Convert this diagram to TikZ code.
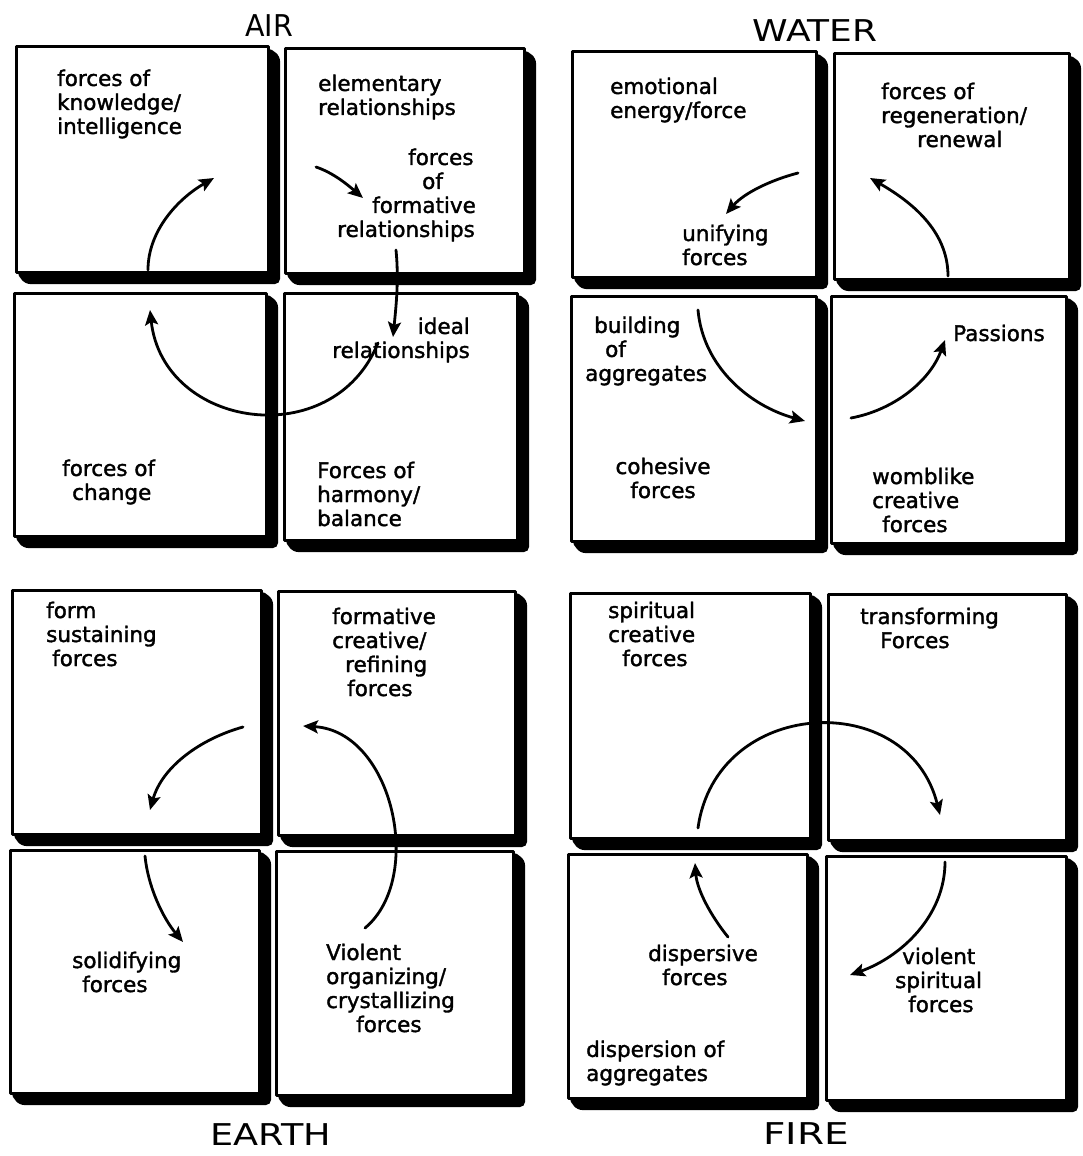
\documentclass[tikz,border=0pt]{standalone}
\usepackage{fontspec}
\usepackage{graphicx}
\setmainfont{DejaVu Sans}
\newfontfamily\handfont{DejaVu Sans}[FakeBold=1.6]
\usetikzlibrary{arrows.meta,fit,calc}
\newcommand{\qbox}[5]{%
  \fill[black, rounded corners=5pt] (#4,#3) -- ({#4+12},{#3+9}) -- ({#4+12},{#5+12}) -- ({#2+9},{#5+12}) -- (#2,#5) -- cycle;
  \node[qboxst, fit={(#2,#3) (#4,#5)}] (#1) {};
}
\begin{document}
\begin{tikzpicture}[x=1pt,y=-1pt,line join=round,
  qboxst/.style={draw, line width=3pt, fill=white, inner sep=0pt, outer sep=0pt},
  lbl/.style={font=\handfont\fontsize{21.5}{24}\selectfont, inner sep=0pt, align=left, anchor=west},
  lblc/.style={font=\handfont\fontsize{21.5}{24}\selectfont, inner sep=0pt, align=center, anchor=center},
  lblr/.style={font=\handfont\fontsize{21.5}{24}\selectfont, inner sep=0pt, align=right, anchor=east},
  ttl/.style={font=\fontsize{30}{32}\selectfont, inner sep=0pt},
  arr/.style={line width=2.8pt, line cap=round, -{Stealth[length=15pt,width=13pt,inset=3pt]}}]
\fill[white] (0,0) rectangle (1083,1156);
\useasboundingbox (0,0) rectangle (1083,1156);

% ---------- boxes ----------
\qbox{airTL}{16}{47}{268}{272}
\qbox{airTR}{285}{49}{524}{273}
\qbox{airBL}{14}{293}{266}{536}
\qbox{airBR}{284}{293}{517}{540}
\qbox{watTL}{572}{52}{816}{277}
\qbox{watTR}{834}{54}{1069}{279}
\qbox{watBL}{571}{296}{816}{541}
\qbox{watBR}{831}{296}{1066}{543}
\qbox{earTL}{12}{590}{261}{834}
\qbox{earTR}{278}{591}{515}{835}
\qbox{earBL}{10}{850}{259}{1093}
\qbox{earBR}{276}{851}{513}{1095}
\qbox{firTL}{570}{593}{810}{838}
\qbox{firTR}{828}{594}{1066}{840}
\qbox{firBL}{568}{854}{807}{1098}
\qbox{firBR}{826}{856}{1066}{1100}

% ---------- titles ----------
\node[ttl] (tAir) at (269,26) {\scalebox{0.95}[1]{AIR}};
\node[ttl] (tWater) at (815,31) {\scalebox{1.2}[1]{WATER}};
\node[ttl] (tEarth) at (271,1135) {\scalebox{1.22}[1]{EARTH}};
\node[ttl] (tFire) at (806,1134) {\scalebox{1.3}[1]{FIRE}};

% ---------- AIR labels ----------
\node[lbl] (lAknow) at (57,104) {forces of\\knowledge/\\intelligence};
\node[lbl] (lAelem) at (318,97) {elementary\\relationships};
\node[lbl] (lAform) at (337,195) {\hspace*{71pt}forces\\\hspace*{85pt}of\\\hspace*{35pt}formative\\relationships};
\node[lblr] (lAideal) at (470,340) {ideal\\relationships};
\node[lbl] (lAchange) at (62,482) {forces of\\\hspace*{10pt}change};
\node[lbl] (lAharm) at (317,494) {Forces of\\harmony/\\balance};

% ---------- WATER labels ----------
\node[lbl] (lWemo) at (610,100) {emotional\\energy/force};
\node[lbl] (lWunify) at (682,245) {unifying\\forces};
\node[lbl] (lWregen) at (881,115) {forces of\\regeneration/\\\hspace*{36pt}renewal};
\node[lbl] (lWbuild) at (585,351) {\hspace*{9pt}building\\\hspace*{20pt}of\\aggregates};
\node[lblc] (lWcoh) at (663,478) {cohesive\\forces};
\node[lbl] (lWpass) at (953,333) {Passions};
\node[lbl] (lWwomb) at (872,500) {womblike\\creative\\\hspace*{10pt}forces};

% ---------- EARTH labels ----------
\node[lbl] (lEform) at (46,634) {form\\sustaining\\\hspace*{6pt}forces};
\node[lbl] (lEcreat) at (332,652) {formative\\creative/\\\hspace*{13pt}refining\\\hspace*{15pt}forces};
\node[lbl] (lEsolid) at (72,972) {solidifying\\\hspace*{10pt}forces};
\node[lbl] (lEviol) at (326,988) {Violent\\organizing/\\crystallizing\\\hspace*{30pt}forces};

% ---------- FIRE labels ----------
\node[lbl] (lFspir) at (608,634) {spiritual\\creative\\\hspace*{14pt}forces};
\node[lbl] (lFtrans) at (860,628) {transforming\\\hspace*{20pt}Forces};
\node[lbl] (lFdisp) at (648,965) {dispersive\\\hspace*{14pt}forces};
\node[lbl] (lFviol) at (895,980) {\hspace*{7pt}violent\\spiritual\\\hspace*{13pt}forces};
\node[lbl] (lFaggr) at (586,1063) {dispersion of\\aggregates};

% ---------- arrows: AIR ----------
\coordinate (a1s) at (148,270); \coordinate (a1e) at (214,178);
\draw[arr] (a1s) .. controls +(0,-40) and +(-35,20) .. (a1e);
\coordinate (a2s) at (378,343); \coordinate (a2e) at (150,310);
\draw[arr] (a2s) .. controls +(-45,111) and +(13,119) .. (a2e);
\coordinate (a3s) at (316,167); \coordinate (a3e) at (363,198);
\draw[arr] (a3s) .. controls +(18,6) and +(-14,-12) .. (a3e);
\coordinate (a4s) at (396,250); \coordinate (a4e) at (393,337);
\draw[arr] (a4s) .. controls +(3,30) and +(3,-30) .. (a4e);

% ---------- arrows: WATER ----------
\coordinate (w1s) at (798,173); \coordinate (w1e) at (726,214);
\draw[arr] (w1s) .. controls +(-27,7) and +(18,-21) .. (w1e);
\coordinate (w2s) at (948,276); \coordinate (w2e) at (870,178);
\draw[arr] (w2s) .. controls +(0,-46) and +(40,23) .. (w2e);
\coordinate (w3s) at (698,310); \coordinate (w3e) at (805,421);
\draw[arr] (w3s) .. controls +(5,57) and +(-55,-15) .. (w3e);
\coordinate (w4s) at (851,418); \coordinate (w4e) at (945,340);
\draw[arr] (w4s) .. controls +(43,-8) and +(-15,41) .. (w4e);

% ---------- arrows: EARTH ----------
\coordinate (e1s) at (243,727); \coordinate (e1e) at (150,810);
\draw[arr] (e1s) .. controls +(-43,12) and +(12,-43) .. (e1e);
\coordinate (e2s) at (145,856); \coordinate (e2e) at (183,942);
\draw[arr] (e2s) .. controls +(3,31) and +(-20,-24) .. (e2e);
\coordinate (e3s) at (365,928); \coordinate (e3e) at (303,726);
\draw[arr] (e3s) .. controls +(60,-50) and +(90,5) .. (e3e);

% ---------- arrows: FIRE ----------
\coordinate (f1s) at (698,828); \coordinate (f1e) at (940,815);
\draw[arr] (f1s) .. controls +(18,-131) and +(-32,-128) .. (f1e);
\coordinate (f2s) at (945,862); \coordinate (f2e) at (850,975);
\draw[arr] (f2s) .. controls +(0,54) and +(51,-18) .. (f2e);
\coordinate (f3s) at (728,937); \coordinate (f3e) at (695,863);
\draw[arr] (f3s) .. controls +(-17,-21) and +(2,27) .. (f3e);
\end{tikzpicture}
\end{document}
